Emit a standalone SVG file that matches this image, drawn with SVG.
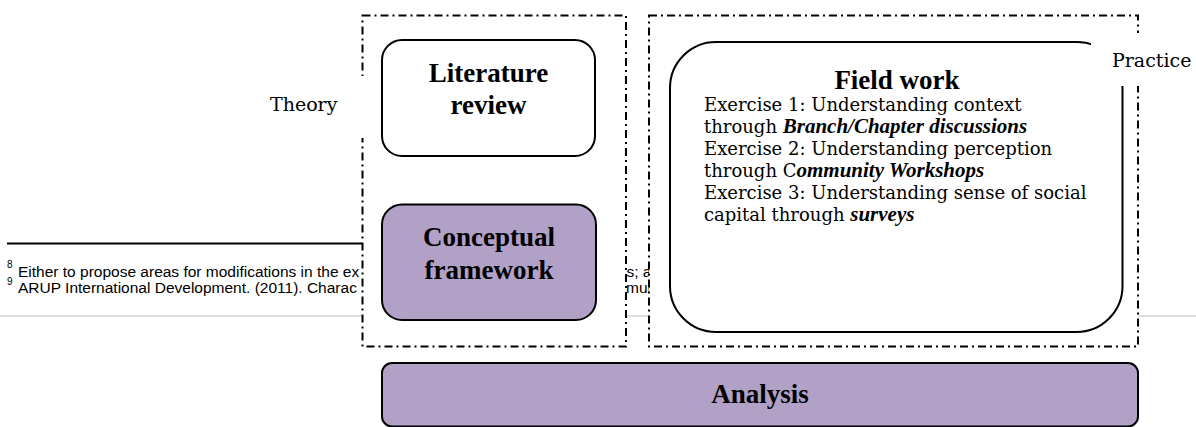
<svg xmlns="http://www.w3.org/2000/svg" width="1196" height="427" viewBox="0 0 1196 427">
  <style>
    .frame { fill: #ffffff; stroke: #000000; stroke-width: 2; stroke-dasharray: 8 4 2 4; }
    .box { stroke: #000000; stroke-width: 2; }
    .plain { fill: #ffffff; }
    .lilac { fill: #b2a1c7; }
    .head { font-family: "Liberation Serif", "Times New Roman", serif; font-weight: bold; font-size: 27px; fill: #000000; }
    .label { font-family: "DejaVu Serif", serif; font-size: 19px; fill: #000000; }
    .body { font-family: "DejaVu Serif", serif; font-size: 18px; fill: #000000; }
    .em { font-family: "Liberation Serif", "Times New Roman", serif; font-size: 21px; font-weight: bold; font-style: italic; }
    .note { font-family: "Liberation Sans", Arial, sans-serif; font-size: 15.5px; fill: #000000; }
    .sup { font-family: "Liberation Sans", Arial, sans-serif; font-size: 10px; fill: #000000; }
  </style>

  <!-- page background -->
  <rect x="0" y="0" width="1196" height="427" fill="#ffffff"/>

  <!-- page separator -->
  <line x1="0" y1="316" x2="1196" y2="316" stroke="#d4d4d4" stroke-width="1.5"/>

  <!-- footnotes -->
  <g id="footnotes">
    <line x1="7" y1="243.5" x2="362" y2="243.5" stroke="#000000" stroke-width="2"/>
    <text class="sup" x="7" y="268">8</text>
    <text class="note" x="18" y="277">Either to propose areas for modifications in the ex</text>
    <text class="sup" x="7" y="285">9</text>
    <text class="note" x="18" y="293">ARUP International Development. (2011). Charac</text>
    <text class="note" x="626.5" y="277">s; a</text>
    <text class="note" x="626" y="293">mun</text>
  </g>

  <!-- dash-dot frames -->
  <g id="theory-frame">
    <rect class="frame" x="362.5" y="15.5" width="263.5" height="331"/>
  </g>
  <g id="practice-frame">
    <rect class="frame" x="649" y="15.5" width="489" height="331"/>
  </g>

  <g id="literature-review">
    <rect class="box plain" x="382" y="40" width="213" height="116" rx="20"/>
    <text class="head" x="488.5" y="82" text-anchor="middle">Literature</text>
    <text class="head" x="488.5" y="114" text-anchor="middle">review</text>
  </g>

  <g id="conceptual-framework">
    <rect class="box lilac" x="382" y="204.5" width="214" height="115.5" rx="20"/>
    <text class="head" x="489" y="246" text-anchor="middle">Conceptual</text>
    <text class="head" x="489" y="279" text-anchor="middle">framework</text>
  </g>

  <g id="field-work">
    <rect class="box plain" x="670" y="42" width="452.5" height="290" rx="46"/>
    <text class="head" x="897" y="89" text-anchor="middle">Field work</text>
    <text class="body" x="704" y="111">Exercise 1: Understanding context</text>
    <text class="body" x="704" y="133">through <tspan class="em">Branch/Chapter discussions</tspan></text>
    <text class="body" x="704" y="155">Exercise 2: Understanding perception</text>
    <text class="body" x="704" y="177">through C<tspan class="em">ommunity Workshops</tspan></text>
    <text class="body" x="704" y="199">Exercise 3: Understanding sense of social</text>
    <text class="body" x="704" y="221">capital through <tspan class="em">surveys</tspan></text>
  </g>

  <!-- side labels sit on white text boxes that mask the frame edges -->
  <g id="theory-label">
    <rect x="250" y="76" width="116" height="62" fill="#ffffff"/>
    <text class="label" x="270" y="111">Theory</text>
  </g>
  <g id="practice-label">
    <rect x="1091" y="33" width="105" height="53" fill="#ffffff"/>
    <text class="label" x="1112" y="67">Practice</text>
  </g>

  <g id="analysis">
    <rect class="box lilac" x="382" y="363" width="756" height="63.5" rx="10"/>
    <text class="head" x="760" y="403" text-anchor="middle">Analysis</text>
  </g>
</svg>
